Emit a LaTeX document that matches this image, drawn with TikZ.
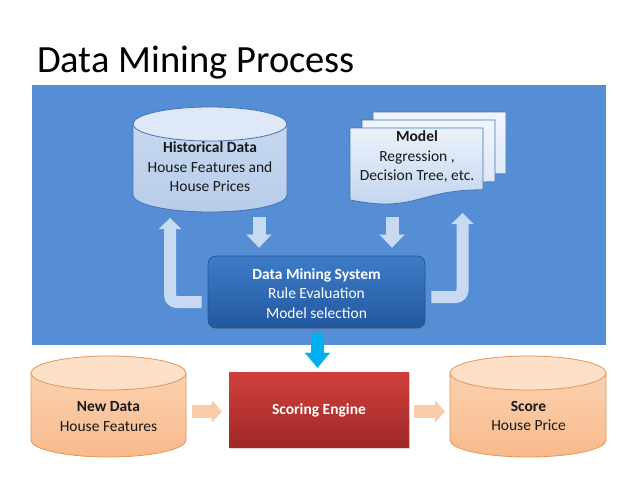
\documentclass[tikz,border=0pt]{standalone}
\usepackage{fontspec}
\setmainfont{Carlito}
\usetikzlibrary{arrows.meta,calc,shadows}
\definecolor{band}{RGB}{85,142,213}
\definecolor{arrowlight}{RGB}{200,218,241}
\definecolor{cyanarrow}{RGB}{0,176,240}
\definecolor{orangearrow}{RGB}{250,203,168}
\definecolor{histtop}{RGB}{200,218,241}
\definecolor{histbot}{RGB}{184,205,234}
\definecolor{histell}{RGB}{222,232,246}
\definecolor{histline}{RGB}{70,115,180}
\definecolor{orgtop}{RGB}{251,214,182}
\definecolor{orgbot}{RGB}{248,186,140}
\definecolor{orgell}{RGB}{252,224,200}
\definecolor{orgline}{RGB}{226,150,90}
\definecolor{doctop}{RGB}{236,242,251}
\definecolor{docbot}{RGB}{190,210,238}
\definecolor{docbacktop}{RGB}{240,245,252}
\definecolor{docbackbot}{RGB}{214,227,245}
\definecolor{dmstop}{RGB}{62,124,200}
\definecolor{dmsbot}{RGB}{33,88,158}
\definecolor{dmsline}{RGB}{40,85,145}
\definecolor{redtop}{RGB}{208,64,60}
\definecolor{redbot}{RGB}{160,40,40}
\newcommand\drawcyl[9]{%
  \pgfmathsetmacro\cylcx{(#1+#2)/2}%
  \pgfmathsetmacro\cylrx{(#2-#1)/2}%
  \shade[top color=#6,bottom color=#7] (#1,{-(#3)-(#5)}) -- (#1,{-(#4)+(#5)})
     arc[start angle=180,end angle=360,x radius=\cylrx pt,y radius=#5pt]
     -- (#2,{-(#3)-(#5)}) arc[start angle=0,end angle=180,x radius=\cylrx pt,y radius=#5pt] -- cycle;
  \draw[draw=#8, line width=0.8pt] (#1,{-(#3)-(#5)}) -- (#1,{-(#4)+(#5)})
     arc[start angle=180,end angle=360,x radius=\cylrx pt,y radius=#5pt] -- (#2,{-(#3)-(#5)});
  \filldraw[fill=#9, draw=#8, line width=0.8pt] (\cylcx,{-(#3)-(#5)}) ellipse[x radius=\cylrx pt, y radius=#5pt];
}
\newcommand\drawdoc[6]{%
  \path[draw=histline, line width=0.8pt, top color=#5, bottom color=#6]
    (#1,-#3) -- (#2,-#3) -- (#2,{-(#3)-0.802*(#4)})
    .. controls ({(#1+#2)/2},{-(#3)-0.802*(#4)}) and ({(#1+#2)/2},{-(#3)-1.107*(#4)}) ..
    (#1,{-(#3)-0.934*(#4)}) -- cycle;
}
\tikzset{
  txt/.style={font=\fontsize{15.5}{19.5}\selectfont, align=center, inner sep=0pt, text=black!90},
  wtxt/.style={font=\fontsize{15.5}{19.5}\selectfont, align=center, inner sep=0pt, text=white},
  anchorbox/.style={inner sep=0pt, outer sep=0pt, draw=none},
  fatstraight/.style={draw=arrowlight, line width=13pt, -{Triangle[width=25pt,length=13pt,line width=0.1pt]}},
  fatbent/.style={draw=arrowlight, line width=12pt, rounded corners=7pt, -{Triangle[width=22pt,length=11pt,line width=0.1pt]}},
  fatcyan/.style={draw=cyanarrow, line width=13pt, -{Triangle[width=25pt,length=15pt,line width=0.1pt]}},
  fatorange/.style={draw=orangearrow, line width=13pt, -{Triangle[width=22pt,length=10pt,line width=0.1pt]}},
  dmsbox/.style={rounded corners=8pt, top color=dmstop, bottom color=dmsbot, draw=dmsline, line width=0.8pt,
    drop shadow={shadow xshift=1pt, shadow yshift=-2pt, opacity=0.35}, minimum width=217pt, minimum height=72pt},
  enginebox/.style={top color=redtop, bottom color=redbot, draw=none,
    drop shadow={shadow xshift=1pt, shadow yshift=-2pt, opacity=0.3}, minimum width=180pt, minimum height=75pt},
}
\begin{document}
\begin{tikzpicture}[x=1pt,y=1pt]
\useasboundingbox (0,0) rectangle (638,-479);
\fill[white] (0,0) rectangle (638,-479);
\node[anchor=base west, font=\fontsize{38.5}{46}\selectfont, inner sep=0pt] (title) at (37,-72) {Data Mining Process};
\fill[band] (32,-85) rectangle (606,-345);
% historical data cylinder
\drawcyl{133}{287}{107}{212}{17}{histtop}{histbot}{histline}{histell}
\node[anchorbox, minimum width=154pt, minimum height=105pt] (histdb) at (210,-159.5) {};
\node[txt] (histtxt) at (210,-167) {\textbf{Historical Data}\\House Features and\\House Prices};
% model documents
\drawdoc{373}{506}{112}{77}{docbacktop}{docbackbot}
\drawdoc{362}{495}{120}{77}{docbacktop}{docbackbot}
\drawdoc{350}{483}{128}{77}{doctop}{docbot}
\node[anchorbox, minimum width=133pt, minimum height=77pt] (modelfront) at (416.5,-166.5) {};
\node[txt] (modeltxt) at (417,-157) {\textbf{Model}\\Regression ,\\Decision Tree, etc.};
% data mining system
\node[dmsbox] (dms) at (316.5,-292) {};
\node[wtxt] (dmstxt) at (316.5,-293.5) {\textbf{Data Mining System}\\Rule Evaluation\\Model selection};
% arrows in band
\draw[fatstraight] ($(histdb.south)+(49,-5)$) -- ($(dms.north)+(-57.5,8)$);
\draw[fatstraight] ($(modelfront.south)+(-24.5,-12)$) -- ($(dms.north)+(75.5,8)$);
\draw[fatbent] ($(dms.west)+(-6,-10)$) -| ($(histdb.south)+(-40,-6)$);
\draw[fatbent] ($(dms.east)+(6,-5)$) -| ($(modelfront.south east)+(-20.5,-8)$);
% bottom row
\drawcyl{31}{186}{356}{457}{17}{orgtop}{orgbot}{orgline}{orgell}
\node[anchorbox, minimum width=155pt, minimum height=101pt] (newdb) at (108.5,-406.5) {};
\node[txt] (newtxt) at (108.5,-416.5) {\textbf{New Data}\\House Features};
\drawcyl{450}{606}{356}{457}{17}{orgtop}{orgbot}{orgline}{orgell}
\node[anchorbox, minimum width=156pt, minimum height=101pt] (scoredb) at (528,-406.5) {};
\node[txt] (scoretxt) at (528.5,-416) {\textbf{Score}\\House Price};
\node[enginebox] (engine) at (319,-409.5) {};
\node[wtxt] (enginetxt) at (319,-410) {\textbf{Scoring Engine}};
\draw[fatcyan] ($(dms.south)+(1,-6)$) -- ($(engine.north)+(-1.5,4)$);
\draw[fatorange] ($(newdb.east)+(6,-5)$) -- ($(engine.west)+(-7,-2)$);
\draw[fatorange] ($(engine.east)+(5,-2)$) -- ($(scoredb.west)+(-5,-5)$);
\end{tikzpicture}
\end{document}
